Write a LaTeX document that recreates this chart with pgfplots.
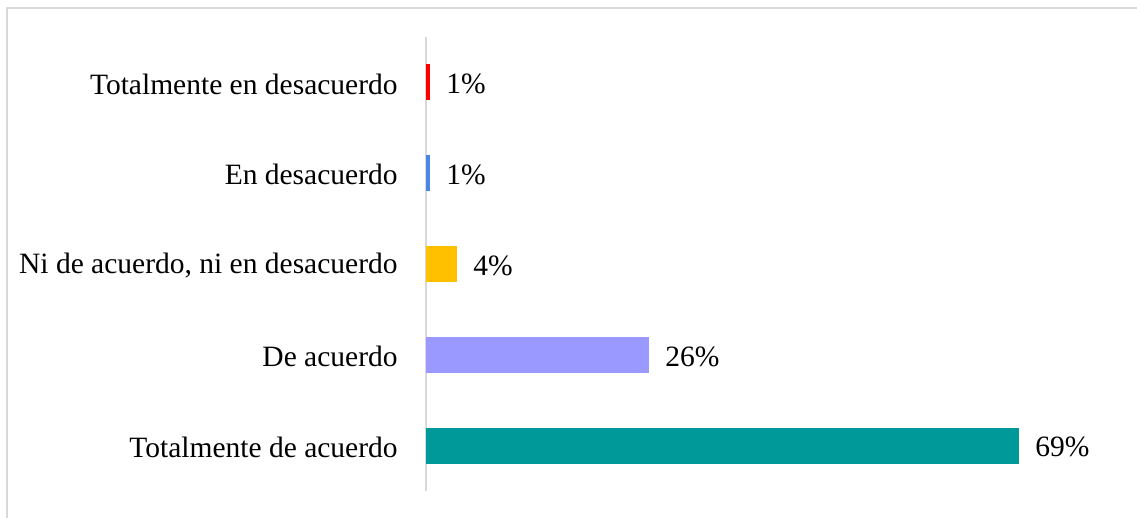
\documentclass[border=0pt]{standalone}
\usepackage{fontspec}
\setmainfont{Liberation Serif}
\usepackage{pgfplots}
\pgfplotsset{compat=1.18}
\definecolor{cRed}{HTML}{FF0000}
\definecolor{cBlue}{HTML}{4A86E8}
\definecolor{cGold}{HTML}{FFC000}
\definecolor{cLav}{HTML}{9999FF}
\definecolor{cTeal}{HTML}{009999}
\definecolor{cGrid}{HTML}{D9D9D9}
\begin{document}
\begin{tikzpicture}
\useasboundingbox (0,0) rectangle (568.5pt,259pt);
\draw[cGrid, line width=0.8pt] (3.5pt,0pt) -- (3.5pt,255pt) -- (568.5pt,255pt);
\begin{axis}[
  at={(213pt,13.5pt)}, anchor=south west,
  scale only axis, width=343.75pt, height=227pt,
  xbar, bar shift=0pt, bar width=18pt,
  xmin=0, xmax=80, ymin=-0.5, ymax=4.5,
  axis x line=none,
  axis y line*=left,
  y axis line style={draw=cGrid, line width=1pt, -},
  ytick={0,1,2,3,4},
  yticklabels={Totalmente de acuerdo, De acuerdo, {Ni de acuerdo, ni en desacuerdo}, En desacuerdo, Totalmente en desacuerdo},
  major tick length=0pt,
  yticklabel style={font=\fontsize{14.75}{17}\selectfont, inner sep=0pt, xshift=-14pt, yshift=-0.8pt},
  nodes near coords,
  point meta=explicit symbolic,
  every node near coord/.append style={font=\fontsize{14.75}{17}\selectfont, inner sep=0pt, anchor=west, xshift=8pt, yshift=-0.8pt, text=black},
  clip=false,
]
\addplot[draw=none, fill=cRed] coordinates {(0.45,4) [1\%]};
\addplot[draw=none, fill=cBlue] coordinates {(0.45,3) [1\%]};
\addplot[draw=none, fill=cGold] coordinates {(3.6,2) [4\%]};
\addplot[draw=none, fill=cLav] coordinates {(25.95,1) [26\%]};
\addplot[draw=none, fill=cTeal] coordinates {(69.0,0) [69\%]};
\end{axis}
\end{tikzpicture}
\end{document}
